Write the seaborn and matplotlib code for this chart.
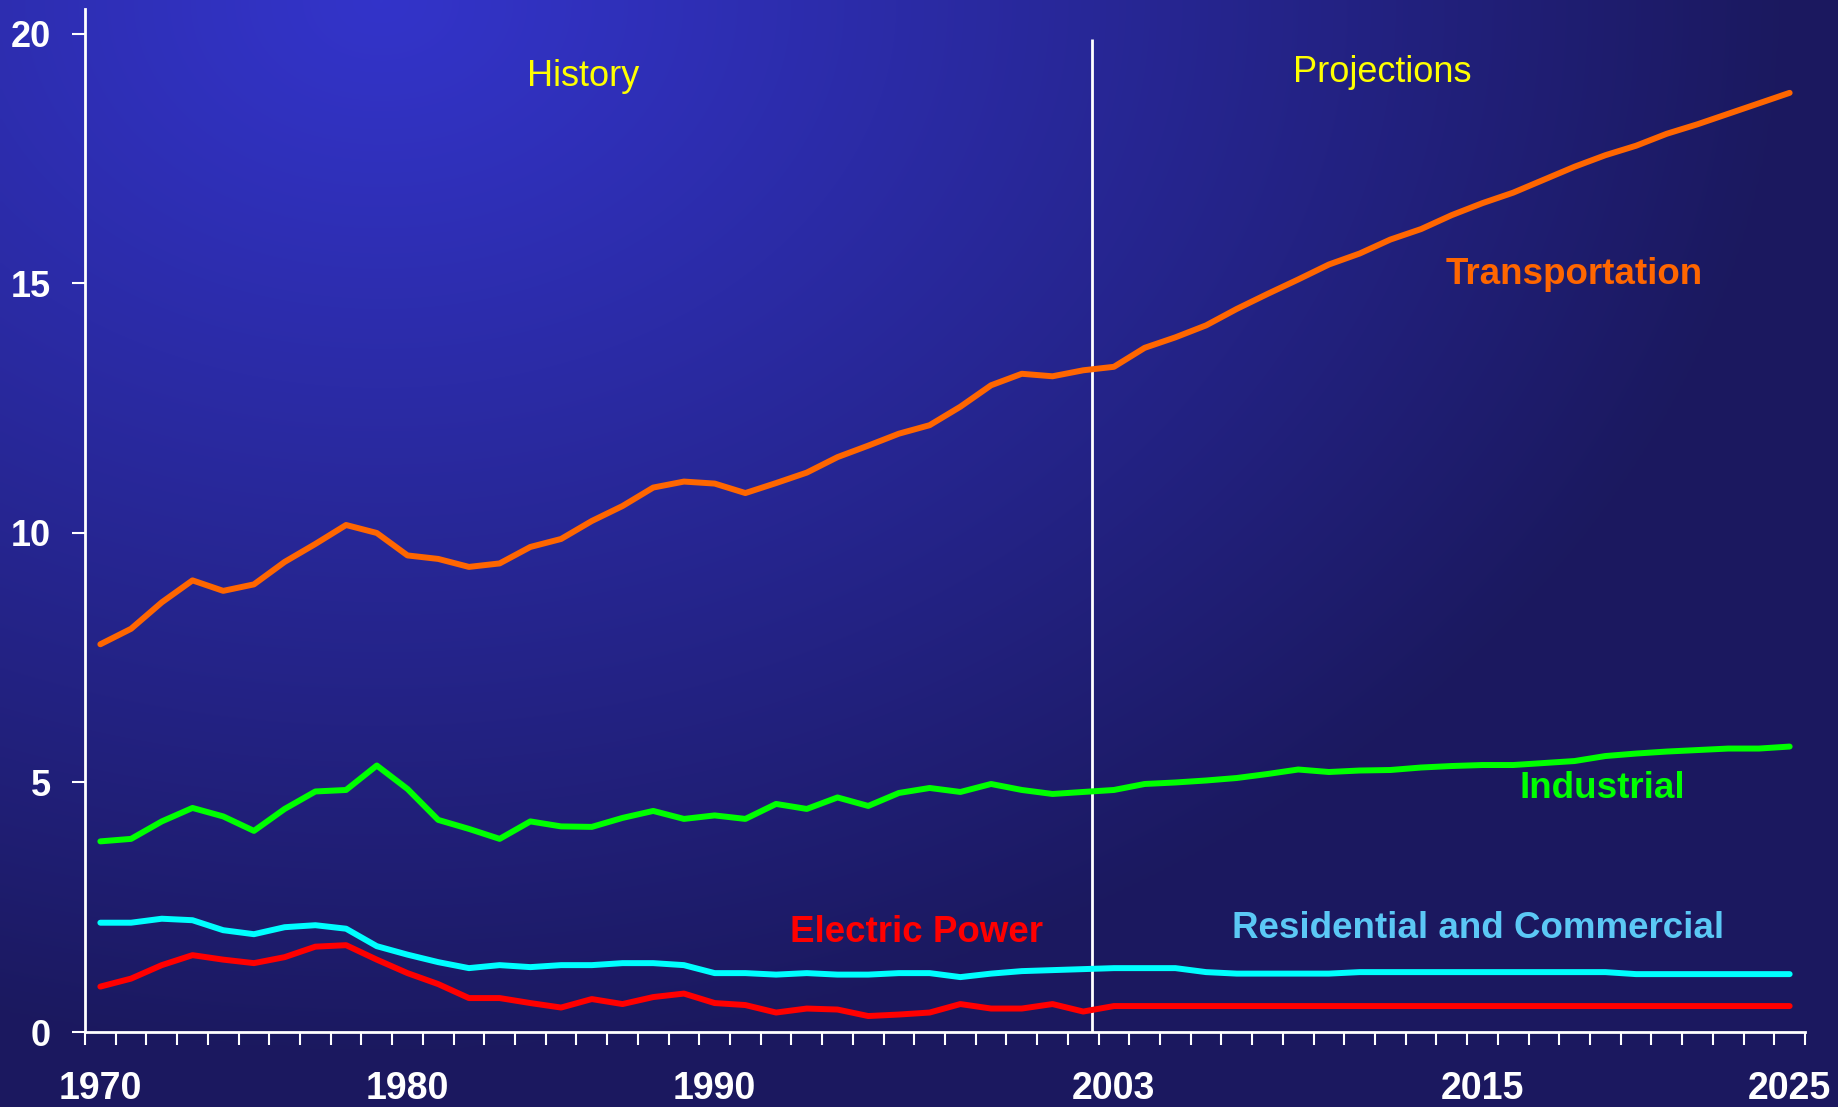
import numpy as np
import pandas as pd
import matplotlib
matplotlib.use("Agg")
import matplotlib.pyplot as plt
import seaborn as sns

# -----------------------------
# Data
# -----------------------------
years = list(range(1970, 2026))

transportation = [
    7.77, 8.08, 8.61, 9.05, 8.84, 8.97, 9.42, 9.78, 10.16, 10.00,
    9.55, 9.48, 9.32, 9.39, 9.72, 9.88, 10.24, 10.54, 10.91, 11.03,
    10.99, 10.80, 11.00, 11.21, 11.52, 11.75, 11.99, 12.16, 12.53, 12.96,
    13.19, 13.14, 13.26, 13.33, 13.71, 13.92, 14.16, 14.49, 14.79, 15.08,
    15.38, 15.60, 15.88, 16.09, 16.37, 16.61, 16.82, 17.08, 17.34, 17.57,
    17.76, 18.00, 18.19, 18.40, 18.61, 18.82,
]
industrial = [
    3.82, 3.87, 4.22, 4.49, 4.32, 4.03, 4.47, 4.82, 4.85, 5.34,
    4.87, 4.25, 4.07, 3.87, 4.22, 4.12, 4.11, 4.29, 4.43, 4.27,
    4.34, 4.27, 4.57, 4.47, 4.70, 4.53, 4.79, 4.89, 4.81, 4.97,
    4.85, 4.77, 4.81, 4.85, 4.97, 5.00, 5.04, 5.09, 5.17, 5.26,
    5.21, 5.24, 5.25, 5.30, 5.33, 5.35, 5.35, 5.39, 5.43, 5.53,
    5.58, 5.62, 5.65, 5.68, 5.68, 5.72,
]
res_comm = [
    2.19, 2.19, 2.27, 2.24, 2.04, 1.96, 2.10, 2.14, 2.07, 1.72,
    1.55, 1.40, 1.28, 1.34, 1.30, 1.34, 1.34, 1.38, 1.38, 1.34,
    1.18, 1.18, 1.15, 1.18, 1.15, 1.15, 1.18, 1.18, 1.10, 1.17,
    1.22, 1.24, 1.26, 1.28, 1.28, 1.28, 1.20, 1.17, 1.17, 1.17,
    1.17, 1.20, 1.20, 1.20, 1.20, 1.20, 1.20, 1.20, 1.20, 1.20,
    1.16, 1.16, 1.16, 1.16, 1.16, 1.16,
]
electric = [
    0.91, 1.07, 1.34, 1.54, 1.45, 1.38, 1.50, 1.71, 1.74, 1.45,
    1.18, 0.96, 0.68, 0.68, 0.58, 0.49, 0.66, 0.56, 0.70, 0.77,
    0.58, 0.54, 0.39, 0.47, 0.45, 0.32, 0.35, 0.39, 0.56, 0.47,
    0.47, 0.56, 0.41, 0.52, 0.52, 0.52, 0.52, 0.52, 0.52, 0.52,
    0.52, 0.52, 0.52, 0.52, 0.52, 0.52, 0.52, 0.52, 0.52, 0.52,
    0.52, 0.52, 0.52, 0.52, 0.52, 0.52,
]

sectors = ["Transportation", "Industrial", "Residential and Commercial", "Electric Power"]
line_colors = {
    "Transportation": "#FF6600",
    "Industrial": "#00FF00",
    "Residential and Commercial": "#00FFFF",
    "Electric Power": "#FF0000",
}
label_colors = {
    "Transportation": "#FF6600",
    "Industrial": "#00FF00",
    "Residential and Commercial": "#5BC8F5",
    "Electric Power": "#FF0000",
}

xtick_years = [1970, 1980, 1990, 2003, 2015, 2025]
ytick_vals = [0, 5, 10, 15, 20]

df = pd.DataFrame({
    "year": years * 4,
    "value": transportation + industrial + res_comm + electric,
    "sector": sum([[s] * len(years) for s in sectors], []),
})

# -----------------------------
# Figure + gradient background
# -----------------------------
plt.rcParams["font.family"] = ["Liberation Sans", "DejaVu Sans"]

W, H = 1838, 1107
fig = plt.figure(figsize=(W / 100, H / 100), dpi=100)

bg = fig.add_axes([0, 0, 1, 1], zorder=-10)
gx, gy = np.meshgrid(np.linspace(0, W, 460), np.linspace(0, H, 280))
t = np.sqrt(((gx - 380) / 1400) ** 2 + ((gy - 0) / 1050) ** 2)
t = np.clip(t, 0, 1) ** 1.1
bright = np.array([0.200, 0.204, 0.790])
dark = np.array([0.106, 0.098, 0.375])
img = bright[None, None, :] * (1 - t[..., None]) + dark[None, None, :] * t[..., None]
bg.imshow(img, extent=[0, W, H, 0], aspect="auto", interpolation="bilinear")
bg.axis("off")

ax = fig.add_axes([85 / W, 1 - 1032 / H, (1805 - 85) / W, (1032 - 9) / H])
ax.set_facecolor("none")

sns.lineplot(data=df, x="year", y="value", hue="sector", palette=line_colors,
             linewidth=4.3, legend=False, errorbar=None, ax=ax,
             solid_capstyle="round", solid_joinstyle="round")

# history / projections divider
ax.vlines(2002.3, 0, 19.9, color="white", linewidth=2, zorder=1)

ax.set_xlim(1969.5, 2025.5)
ax.set_ylim(0, 20.5)

ax.set_xticks(xtick_years)
ax.set_xticklabels([str(y) for y in xtick_years])
ax.set_xticks(np.arange(1969.5, 2026, 1), minor=True)
ax.set_yticks(ytick_vals)

ax.tick_params(axis="x", which="major", length=0, pad=28,
               labelsize=27, labelcolor="white")
ax.tick_params(axis="x", which="minor", length=9.5, width=1.5,
               color="white", direction="out")
ax.tick_params(axis="y", which="major", length=9.5, width=1.5, color="white",
               direction="out", pad=15, labelsize=26, labelcolor="white")
for lbl in ax.get_xticklabels() + ax.get_yticklabels():
    lbl.set_fontweight("bold")

for side in ["top", "right"]:
    ax.spines[side].set_visible(False)
for side in ["left", "bottom"]:
    ax.spines[side].set_color("white")
    ax.spines[side].set_linewidth(2)

ax.set_xlabel("")
ax.set_ylabel("")

# -----------------------------
# Annotations
# -----------------------------
ax.text(1985.73, 18.96, "History", color="#FFFF00", fontsize=26,
        ha="center", va="baseline")
ax.text(2011.73, 19.04, "Projections", color="#FFFF00", fontsize=26,
        ha="center", va="baseline")

label_pos = {
    "Transportation": (2017.98, 14.99),
    "Industrial": (2018.91, 4.69),
    "Residential and Commercial": (2014.85, 1.88),
    "Electric Power": (1996.57, 1.81),
}
for s in sectors:
    x, y = label_pos[s]
    ax.text(x, y, s, color=label_colors[s], fontsize=26.5, fontweight="bold",
            ha="center", va="baseline")

plt.savefig("out.png", dpi=100)
